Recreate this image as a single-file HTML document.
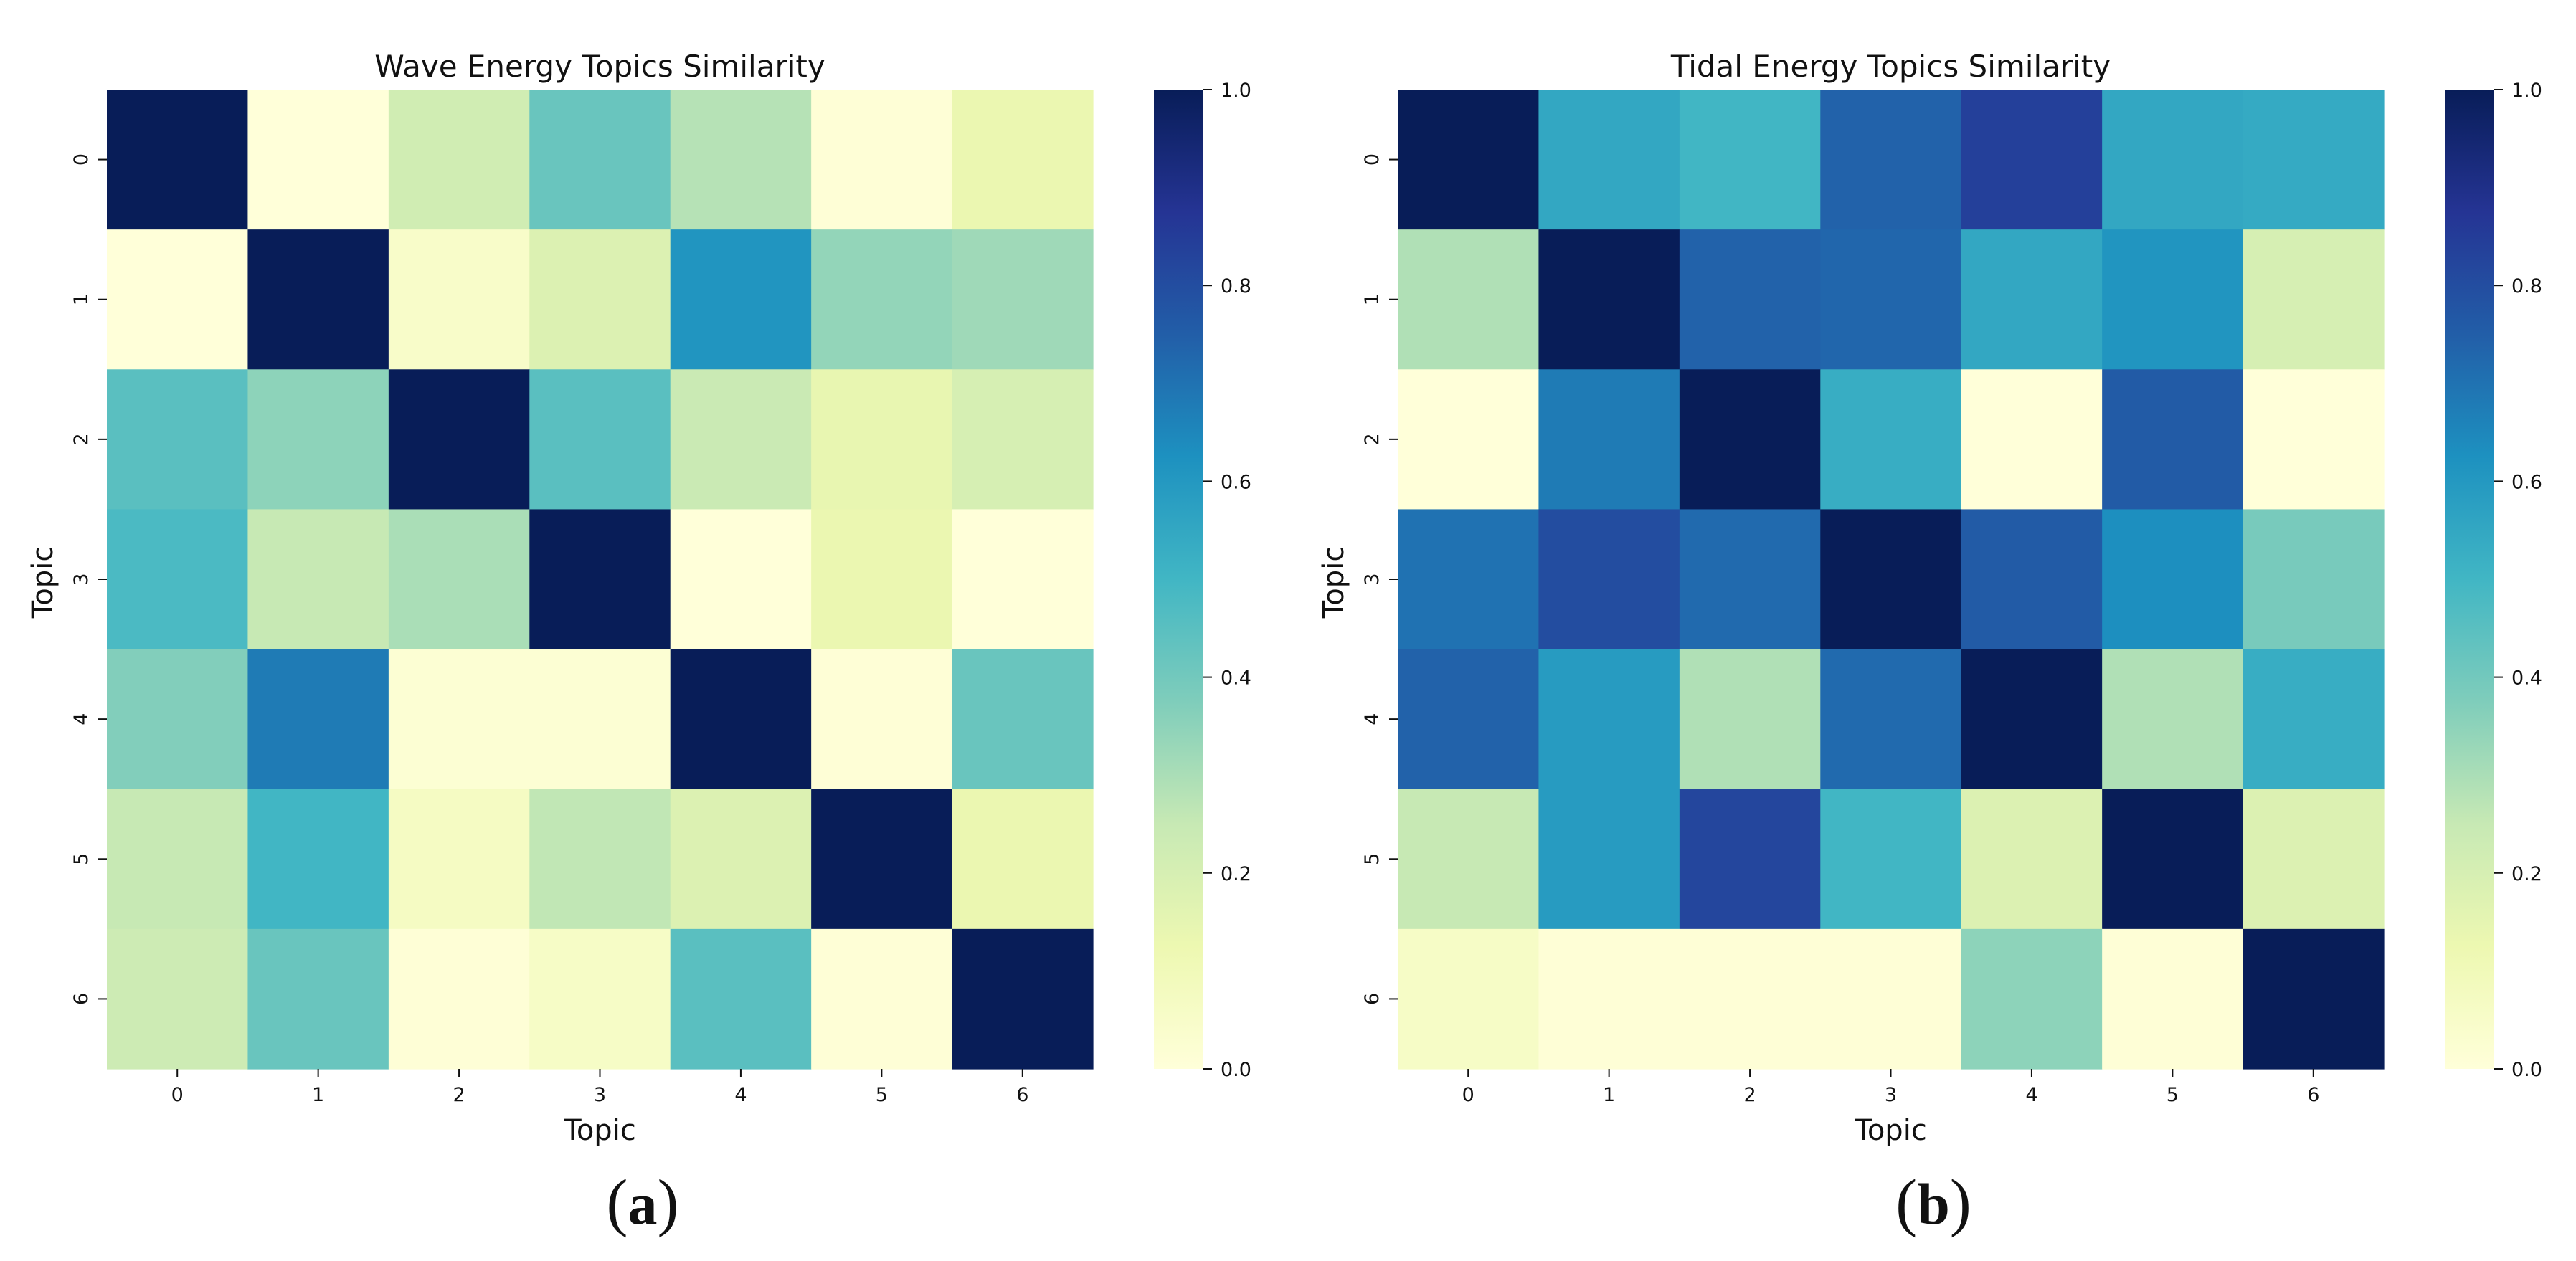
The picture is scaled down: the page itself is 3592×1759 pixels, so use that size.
<!DOCTYPE html>
<html><head><meta charset="utf-8"><style>
html,body{margin:0;padding:0;background:#fff;}
svg{display:block;}
text{font-family:"DejaVu Sans","Liberation Sans",sans-serif;fill:#111;}
</style></head><body>
<svg id="fig" width="3592" height="1759" viewBox="0 0 3592 1759" xmlns="http://www.w3.org/2000/svg">
<defs>
<linearGradient id="cbgrad" x1="0" y1="1" x2="0" y2="0">
<stop offset="0" stop-color="#ffffd9"/><stop offset="0.125" stop-color="#edf8b1"/><stop offset="0.25" stop-color="#c7e9b4"/><stop offset="0.375" stop-color="#7fcdbb"/><stop offset="0.5" stop-color="#41b6c4"/><stop offset="0.625" stop-color="#1d91c0"/><stop offset="0.75" stop-color="#225ea8"/><stop offset="0.875" stop-color="#253494"/><stop offset="1" stop-color="#081d58"/>
</linearGradient>
</defs>
</svg>
<script>
const topics = [0,1,2,3,4,5,6];
const cbTicks = [0,0.2,0.4,0.6,0.8,1.0];
const cbTickLabels = ["0.0","0.2","0.4","0.6","0.8","1.0"];
const waveValues = [
 [1,0.0,0.22,0.42,0.28,0.01,0.13],
 [0.0,1,0.05,0.18,0.61,0.34,0.32],
 [0.45,0.35,1,0.45,0.24,0.14,0.2],
 [0.48,0.25,0.3,1,0.0,0.13,0.0],
 [0.37,0.68,0.02,0.02,1,0.01,0.42],
 [0.25,0.5,0.07,0.26,0.18,1,0.13],
 [0.23,0.42,0.01,0.06,0.45,0.01,1]
];
const tidalValues = [
 [1,0.55,0.5,0.74,0.84,0.55,0.54],
 [0.29,1,0.74,0.73,0.55,0.61,0.2],
 [0.0,0.68,1,0.53,0.0,0.76,0.0],
 [0.7,0.8,0.72,1,0.76,0.63,0.39],
 [0.74,0.59,0.29,0.72,1,0.29,0.53],
 [0.25,0.59,0.82,0.5,0.18,1,0.18],
 [0.06,0.01,0.01,0.01,0.35,0.01,1]
];
const titles = ["Wave Energy Topics Similarity","Tidal Energy Topics Similarity"];
const captions = ["a","b"];

const cmap = ["#ffffd9","#edf8b1","#c7e9b4","#7fcdbb","#41b6c4","#1d91c0","#225ea8","#253494","#081d58"];
function hex(h){return [parseInt(h.substr(1,2),16),parseInt(h.substr(3,2),16),parseInt(h.substr(5,2),16)];}
function color(v){
  v=Math.max(0,Math.min(1,v));
  const p=v*8, i=Math.min(7,Math.floor(p)), t=p-i;
  const a=hex(cmap[i]), b=hex(cmap[i+1]);
  return "rgb("+a.map((c,k)=>Math.round(c+(b[k]-c)*t)).join(",")+")";
}
const NS="http://www.w3.org/2000/svg";
const svg=document.getElementById("fig");
function mk(tag,attrs,parent){const e=document.createElementNS(NS,tag);for(const k in attrs)e.setAttribute(k,attrs[k]);(parent||svg).appendChild(e);return e;}

function panel(ox, values, title, caption, idx){
  const g=mk("g",{});
  
  
  const L=149+ox, T=125, W=1375, H=1366;
  const n=topics.length, cw=W/n, ch=H/n;
  const xs=i=>L+i*cw, ys=i=>T+i*ch;
  for(let r=0;r<n;r++)for(let c=0;c<n;c++){
    const rc=mk("rect",{x:xs(c),y:ys(r),width:cw+0.6,height:ch+0.6,fill:color(values[r][c])},g);
    
    
  }
  topics.forEach((t,i)=>{
    const cx=xs(i)+cw/2;
    mk("line",{x1:cx,y1:T+H,x2:cx,y2:T+H+12,stroke:"#111","stroke-width":2},g);
    const tx=mk("text",{x:cx,y:1536,"font-size":27,"text-anchor":"middle"},g);
    tx.textContent=t;
    
    
    const cy=ys(i)+ch/2;
    mk("line",{x1:L-12,y1:cy,x2:L,y2:cy,stroke:"#111","stroke-width":2},g);
    const ty=mk("text",{x:0,y:0,"font-size":27,"text-anchor":"middle"},g);
    ty.setAttribute("transform","translate("+(ox+122)+","+cy+") rotate(-90)");
    ty.textContent=t;
    
    
  });
  const tt=mk("text",{x:L+W/2,y:107,"font-size":42,"text-anchor":"middle"},g);
  tt.textContent=title;
  
  
  const xl=mk("text",{x:L+W/2,y:1590,"font-size":40,"text-anchor":"middle"},g);
  xl.textContent="Topic";
  
  
  const yl=mk("text",{x:0,y:0,"font-size":40,"text-anchor":"middle",transform:"translate("+(ox+73)+","+(T+H/2+4)+") rotate(-90)"},g);
  yl.textContent="Topic";
  
  
  const cbx=1609+ox, cbw=69;
  const cb=mk("rect",{x:cbx,y:T,width:cbw,height:H,fill:"url(#cbgrad)"},g);
  
  
  const cbs=v=>T+H-v*H;
  cbTicks.forEach((v,i)=>{
    const y=cbs(v);
    mk("line",{x1:cbx+cbw,y1:y,x2:cbx+cbw+12,y2:y,stroke:"#111","stroke-width":2},g);
    const lt=mk("text",{x:cbx+cbw+24,y:y+10,"font-size":27},g);
    lt.textContent=cbTickLabels[i];
    
    
  });
  const cp=mk("text",{x:896+ox,y:1707,"font-size":82,"text-anchor":"middle",style:"font-family:'Liberation Serif',serif"},g);
  
  
  const p1=mk("tspan",{"font-size":90},cp); p1.textContent="(";
  const p2=mk("tspan",{"font-weight":"bold"},cp); p2.textContent=caption;
  const p3=mk("tspan",{"font-size":90},cp); p3.textContent=")";
}
panel(0, waveValues, titles[0], captions[0], 0);
panel(1800, tidalValues, titles[1], captions[1], 1);
</script>
</body></html>
